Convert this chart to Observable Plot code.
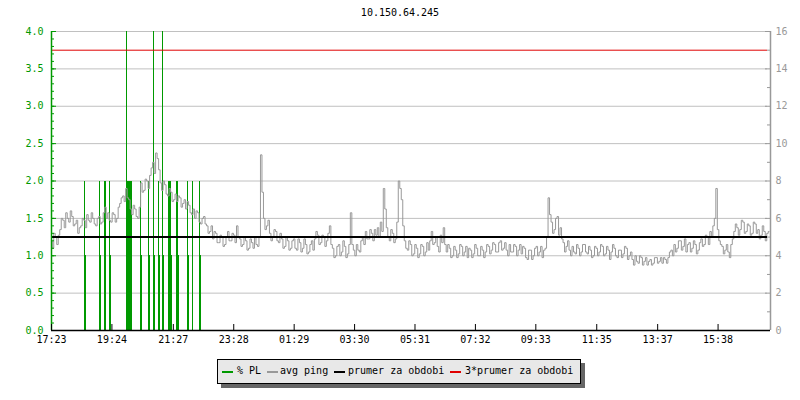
<!DOCTYPE html>
<html>
<head>
<meta charset="utf-8">
<script src="https://cdn.jsdelivr.net/npm/d3@7"></script>
<script src="https://cdn.jsdelivr.net/npm/@observablehq/plot@0.6"></script>
<style>
  html, body { margin: 0; padding: 0; background: #fff; }
  #wrap { position: relative; width: 800px; height: 400px; font-family: "DejaVu Sans Mono", monospace; font-size: 10px; }
  #title { position: absolute; left: 0; top: 7px; width: 800px; text-align: center; color: #000; line-height: 12px; }
  #chart { position: absolute; left: 0; top: 0; }
  #legend { position: absolute; left: 217px; top: 359px; width: 362px; height: 23px; background: #e8e8e8; border: 1px solid #000; box-shadow: 4px 4px 0 #666; }
  .sw { position: absolute; top: 11px; width: 11px; height: 2px; }
  .lt { position: absolute; top: 5px; line-height: 12px; color: #000; white-space: pre; }
</style>
</head>
<body>
<div id="wrap">
  <div id="chart"></div>
  <div id="title"></div>
  <div id="legend"></div>
</div>
<script>
// ---- data ----
const title = "10.150.64.245";
const xTickLabels = ["17:23","19:24","21:27","23:28","01:29","03:30","05:31","07:32","09:33","11:35","13:37","15:38"];
const spanMinutes = 1440;       // 24 h shown
const sampleStepMin = 3;        // avg ping sample interval (minutes)
// avg ping in ms (right axis 0-16)
const avgPing = [
  4.8,4.4, 5.2,5.0, 4.6,5.1, 5.4,6.0, 5.9,5.5, 6.3,6.0, 5.8,6.4, 6.1,5.6, 5.7,5.9, 5.2,5.5,
  5.6,6.0, 5.9,5.5, 6.2,5.9, 5.8,6.3, 6.0,5.7, 5.6,6.0, 6.1,5.7, 5.8,6.3, 6.6,6.0, 6.3,5.9,
  5.8,6.3, 6.2,5.8, 6.0,6.6, 6.8,7.1, 7.2,6.9, 7.6,7.1, 7.0,6.5, 6.2,6.7, 6.5,6.1, 6.0,6.6,
  7.9,7.4, 7.5,8.1, 8.0,7.6, 8.3,8.7, 9.0,8.4, 9.5,9.2, 8.6,7.9, 7.5,8.0, 7.8,7.3, 7.2,7.6,
  7.4,6.9, 7.0,7.3, 6.9,7.2, 7.1,6.6, 6.8,7.0, 6.5,6.9, 6.7,6.3, 6.2,6.5, 6.0,6.4, 6.3,5.8,
  5.7,6.0, 6.1,5.7, 5.6,5.2, 5.3,5.6, 4.9,5.3, 5.2,4.7, 4.7,5.1, 5.0,4.5, 4.6,5.0, 5.3,4.8,
  4.8,5.2, 5.1,4.7, 5.6,5.0, 4.9,4.5, 4.6,5.0, 4.8,4.3, 4.4,4.9, 4.7,4.4, 5.0,4.6, 4.5,5.0,
  9.4,7.4, 6.0,5.4, 5.6,5.9, 5.2,4.8, 5.0,5.4, 5.3,4.8, 4.7,5.2, 4.9,4.4, 4.5,5.0, 4.8,4.3,
  4.4,4.8, 4.9,4.4, 4.3,4.9, 4.7,4.2, 4.4,4.9, 4.6,4.1, 4.2,4.6, 4.8,4.3, 4.9,5.3, 5.1,4.6,
  4.7,5.1, 5.0,4.5, 4.8,5.2, 5.6,4.6, 4.4,3.9, 4.0,4.5, 4.6,4.0, 4.2,4.8, 4.5,3.9, 4.1,4.6,
  6.3,4.6, 4.3,4.0, 4.6,4.3, 4.2,4.8, 5.0,4.6, 5.3,4.9, 4.9,5.4, 5.2,4.8, 5.4,5.1, 5.5,5.0,
  5.8,5.3, 7.6,6.5, 5.5,5.0, 4.8,5.4, 5.2,4.7, 4.9,5.8, 8.0,7.6, 7.0,5.6, 4.8,4.4, 4.3,4.8,
  4.6,4.0, 4.1,4.6, 4.4,3.9, 4.1,4.6, 4.5,4.0, 4.2,4.7, 4.3,4.8, 5.3,4.6, 4.7,5.0, 4.5,4.2,
  5.1,4.7, 5.5,4.6, 4.2,4.6, 4.4,3.9, 4.0,4.5, 4.3,3.9, 4.1,4.6, 4.5,4.0, 4.2,4.5, 3.9,4.4,
  4.3,3.9, 4.1,4.6, 4.4,4.0, 4.0,4.5, 4.3,3.9, 4.2,4.6, 4.5,4.1, 4.3,4.7, 4.6,4.2, 4.2,4.7,
  4.8,4.3, 4.4,4.7, 4.3,4.0, 4.6,4.2, 4.2,4.6, 4.5,4.0, 4.3,4.6, 4.1,4.5, 4.4,3.9, 3.8,4.3,
  4.3,3.8, 4.0,4.4, 4.5,4.0, 4.2,4.5, 3.9,4.3, 4.4,5.0, 7.1,6.2, 5.8,5.2, 5.4,6.0, 6.1,5.1,
  5.5,4.9, 4.7,4.2, 4.5,4.8, 4.3,4.0, 4.5,4.2, 4.1,4.6, 4.4,4.0, 4.2,4.6, 4.6,4.2, 4.1,4.5,
  4.3,3.9, 4.0,4.5, 4.4,4.0, 4.2,4.6, 4.5,4.0, 4.1,4.5, 4.3,3.8, 4.2,4.6, 4.4,4.0, 3.9,4.3,
  4.3,3.9, 4.1,4.5, 4.4,3.8, 4.0,4.2, 3.8,3.5, 4.0,3.7, 3.6,4.0, 3.9,3.5, 3.7,3.9, 3.5,3.7,
  3.8,3.5, 3.6,3.9, 3.9,3.6, 3.7,3.9, 3.6,3.9, 3.8,3.6, 3.9,4.2, 4.3,4.0, 4.6,4.2, 4.4,4.8,
  4.8,4.3, 4.5,4.9, 4.2,4.6, 4.7,4.2, 4.4,4.8, 4.6,4.1, 4.3,4.7, 4.9,4.5, 4.6,5.1, 5.0,4.6,
  5.3,5.0, 5.6,6.0, 7.6,5.4, 4.8,4.6, 4.5,4.1, 4.3,4.6, 4.2,3.9, 4.6,4.9, 5.3,5.7, 5.5,5.1,
  5.4,5.9, 5.8,5.2, 5.3,5.7, 5.6,5.1, 5.2,5.8, 5.7,5.2, 5.4,4.9, 5.1,5.6, 5.3,4.8, 5.2,5.3
];
// packet loss events: minutes after 17:23, and % PL (left axis 0-4)
const plMinutes = [67, 69, 97, 99, 107, 109, 116, 118, 151, 152, 154, 156, 158, 160,
  178, 180, 195, 197, 205, 207, 214, 216, 223, 225, 234, 236, 238, 240,
  251, 253, 255, 273, 275, 282, 297, 299];
const plValues = [2, 1, 2, 1, 2, 2, 2, 1, 4, 2, 2, 2, 2, 2,
  2, 1, 2, 1, 4, 1, 2, 1, 4, 1, 2, 2, 2, 1,
  2, 2, 1, 2, 1, 2, 2, 1];
const meanPing = 5.0;          // prumer za obdobi (ms)
const leftMax = 4, rightMax = 16;

// ---- colours ----
const green = "#009900", gray = "#999999", red = "#e00000", grid = "#c0c0c0";

// ---- derived tables ----
const k = rightMax / leftMax;
const pingData = avgPing.map((v, i) => ({t: i * sampleStepMin, v}));
const plData = plMinutes.map((t, i) => ({t, v: plValues[i]}));
const start = xTickLabels[0].split(":").map(Number);
const startMin = start[0] * 60 + start[1];
const tickTimes = xTickLabels.map(s => {
  const [h, m] = s.split(":").map(Number);
  let d = h * 60 + m - startMin;
  if (d < 0) d += 1440;
  return d;
});
const labelOf = new Map(tickTimes.map((t, i) => [t, xTickLabels[i]]));
const majorY = d3.range(0, rightMax + 0.001, 2);
const leftMinor = d3.range(0, rightMax + 0.001, 0.4);
const rightMinor = d3.range(1, rightMax, 2);

const W = 800, H = 400, mL = 51, mR = 30, mT = 31, mB = 70;
const pw = W - mL - mR, ph = H - mT - mB;

const chart = Plot.plot({
  width: W, height: H,
  marginLeft: mL, marginRight: mR, marginTop: mT, marginBottom: mB,
  style: {fontFamily: "DejaVu Sans Mono", fontSize: "10px", background: "transparent"},
  x: {domain: [0, spanMinutes], axis: null},
  y: {domain: [0, rightMax], axis: null},
  marks: [
    Plot.ruleY(majorY.filter(d => d > 0), {y: d => d, stroke: grid, insetRight: 3}),
    Plot.ruleX(plData, {x: "t", y1: 0, y2: d => d.v * k, stroke: green, strokeWidth: 1, shapeRendering: "crispEdges"}),
    Plot.line(pingData, {x: "t", y: "v", stroke: gray, strokeWidth: 1, curve: "step"}),
    Plot.ruleY([meanPing], {stroke: "#000", strokeWidth: 2, insetRight: 3}),
    Plot.ruleY([3 * meanPing], {stroke: red, strokeWidth: 1, insetRight: 3}),
    // left axis (% PL)
    Plot.ruleX([0], {stroke: green, strokeWidth: 1.5}),
    Plot.tickY(leftMinor, {y: d => d, stroke: green, insetRight: pw - 3}),
    Plot.tickY(majorY, {y: d => d, stroke: green, insetRight: pw - 5}),
    Plot.axisY({anchor: "left", ticks: majorY, tickSize: 0, tickPadding: 8, color: green, fontSize: 10,
      tickFormat: d => (d / k).toFixed(1), label: null}),
    // right axis (ms)
    Plot.ruleX([spanMinutes], {stroke: gray, strokeWidth: 1.5}),
    Plot.tickY(rightMinor, {y: d => d, stroke: gray, insetLeft: pw - 3}),
    Plot.tickY(majorY, {y: d => d, stroke: gray, insetLeft: pw - 5}),
    Plot.axisY({anchor: "right", ticks: majorY, tickSize: 0, tickPadding: 5, color: gray, fontSize: 10,
      tickFormat: d => String(d), label: null}),
    // x axis
    Plot.ruleY([0], {stroke: "#000", strokeWidth: 1.5}),
    Plot.tickX(tickTimes, {x: d => d, stroke: "#000", insetTop: ph - 6}),
    Plot.axisX({ticks: tickTimes, tickSize: 0, tickPadding: 5, color: "#000", fontSize: 10,
      tickFormat: d => labelOf.get(d), label: null})
  ]
});
document.getElementById("chart").appendChild(chart);
document.getElementById("title").textContent = title;

// legend
const legendItems = [
  {label: "% PL", color: green, sx: 4, tx: 19},
  {label: "avg ping", color: gray, sx: 49, tx: 62},
  {label: "prumer za obdobi", color: "#000", sx: 116, tx: 130},
  {label: "3*prumer za obdobi", color: red, sx: 232, tx: 247}
];
const lg = document.getElementById("legend");
for (const it of legendItems) {
  const s = document.createElement("div");
  s.className = "sw"; s.style.left = it.sx + "px"; s.style.background = it.color;
  lg.appendChild(s);
  const t = document.createElement("div");
  t.className = "lt"; t.style.left = it.tx + "px"; t.textContent = it.label;
  lg.appendChild(t);
}
</script>
</body>
</html>
